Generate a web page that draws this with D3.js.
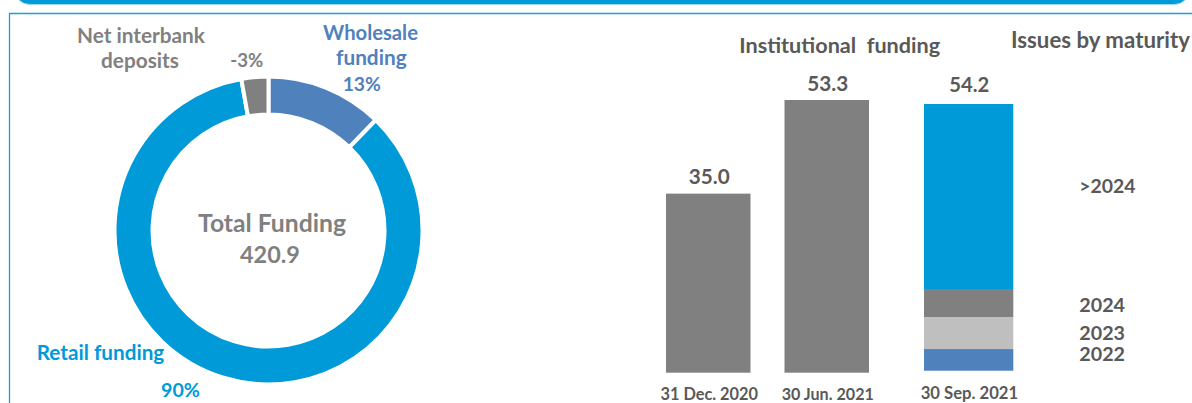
<!DOCTYPE html>
<html><head><meta charset="utf-8">
<script src="https://cdn.jsdelivr.net/npm/d3@7"></script>
<style>
html,body{margin:0;padding:0;background:#fff;overflow:hidden}
svg{display:block}
text{font-family:Lato,'Open Sans',sans-serif;font-weight:700;white-space:pre}
</style>
</head><body><svg id="c" width="1192" height="403"></svg>
<script>
// ---- data ----
const donutCategories = ["Wholesale funding", "Retail funding", "Net interbank deposits"];
const donutValues = [13, 90, -3];
const totalFundingLabel = "Total Funding";
const totalFunding = 420.9;
const barCategories = ["31 Dec. 2020", "30 Jun. 2021"];
const barValues = [35.0, 53.3];
const stackCategory = "30 Sep. 2021";
const maturityLabels = ["2022", "2023", "2024", ">2024"];
const maturityValues = [4.4, 6.5, 5.7, 37.6];
const barTitle = "Institutional  funding";
const maturityTitle = "Issues by maturity";

// ---- helpers ----
const svg = d3.select("#c");
function fit(t, w) {
  t.style("font-size", "20px");
  const m = t.node().getComputedTextLength();
  t.style("font-size", (20 * w / m) + "px");
  return t;
}
function label(txt, x, y, w, color, anchor) {
  const t = svg.append("text").attr("x", x).attr("y", y)
    .attr("text-anchor", anchor || "middle").attr("fill", color).text(txt);
  return fit(t, w);
}

// ---- frame ----
svg.append("rect").attr("x", 14).attr("y", -40).attr("width", 1176).attr("height", 44.5)
  .attr("rx", 16).attr("fill", "#009ad9").attr("stroke", "#9fd8f1").attr("stroke-width", 1);
svg.append("path").attr("d", "M9.5,403V13.5H1192").attr("fill", "none")
  .attr("stroke", "#1f9fd9").attr("stroke-width", 1.3);

// ---- donut ----
const donutColors = ["#4f81bd", "#009ad9", "#808080"];
const cx = 268.5, cy = 230.5;
const pie = d3.pie().value(d => Math.abs(d)).sort(null);
const arc = d3.arc().innerRadius(116).outerRadius(154);
const dg = svg.append("g").attr("transform", `translate(${cx},${cy})`);
dg.selectAll("path").data(pie(donutValues)).join("path")
  .attr("d", arc).attr("fill", (d, i) => donutColors[i])
  .attr("stroke", "#fff").attr("stroke-width", 4);

// donut labels (manual placement as in the original)
const donutLabelLayout = [
  { lines: [[cx + 102, 40, 95], [cx + 102.8, 65, 70.7]], pct: [cx + 93.3, 90.7, 38.3], color: "#4f81bd", split: true },
  { lines: [[100.5, 360, 127.6]], pct: [180.5, 397.3, 39], color: "#009ad9", split: false },
  { lines: [[141, 42.7, 128], [140, 67.7, 78]], pct: [246.7, 66.7, 33], color: "#808080", split: true }
];
donutCategories.forEach((name, i) => {
  const L = donutLabelLayout[i];
  let parts = [name];
  if (L.split) { const k = name.lastIndexOf(" "); parts = [name.slice(0, k), name.slice(k + 1)]; }
  parts.forEach((p, j) => label(p, L.lines[j][0], L.lines[j][1], L.lines[j][2], L.color));
  label(donutValues[i] + "%", L.pct[0], L.pct[1], L.pct[2], L.color);
});
label(totalFundingLabel, cx + 3.5, 231.7, 148, "#808080");
label(d3.format(".1f")(totalFunding), cx + 1.5, 263.3, 60, "#808080");

// ---- institutional funding bars ----
const textDark = "#595959";
const yBar = d3.scaleLinear().domain([0, d3.max(barValues)]).range([372.7, 100]);
const xBar = d3.scaleBand().domain(barCategories).range([666, 869]).paddingInner(0.287).paddingOuter(0);
svg.append("g").selectAll("rect").data(barValues).join("rect")
  .attr("x", (d, i) => xBar(barCategories[i])).attr("width", xBar.bandwidth())
  .attr("y", d => yBar(d)).attr("height", d => yBar(0) - yBar(d)).attr("fill", "#808080");
barValues.forEach((v, i) => {
  const x = xBar(barCategories[i]) + xBar.bandwidth() / 2;
  label(d3.format(".1f")(v), x + 1, yBar(v) - 9.5, 41, textDark);
  label(barCategories[i], x + 1, yBar(0) + 26.8, i === 0 ? 97.6 : 92.3, textDark);
});

// ---- stacked bar: issues by maturity ----
const stackColors = ["#4f81bd", "#bfbfbf", "#808080", "#009ad9"];
const total = d3.sum(maturityValues);
const yStack = d3.scaleLinear().domain([0, total]).range([370.7, 104]);
const xStack = d3.scaleBand().domain([stackCategory]).range([924, 1013.3]);
let cum = 0;
const segs = maturityValues.map(v => { const s = { y0: cum, y1: cum + v }; cum += v; return s; });
svg.append("g").selectAll("rect").data(segs).join("rect")
  .attr("x", xStack(stackCategory)).attr("width", xStack.bandwidth())
  .attr("y", d => yStack(d.y1)).attr("height", d => yStack(d.y0) - yStack(d.y1))
  .attr("fill", (d, i) => stackColors[i]);
const sx = xStack(stackCategory) + xStack.bandwidth() / 2;
label(d3.format(".1f")(total), sx + 0.6, yStack(total) - 12.3, 40, textDark);
label(stackCategory, sx + 0.8, yStack(0) + 27.8, 97.6, textDark);
const labelNudge = [1.3, 6.5, 9.3, -3.2];
const legendWidths = [45.7, 45.7, 45.7, 56.3];
segs.forEach((s, i) => {
  label(maturityLabels[i], 1079.3, yStack((s.y0 + s.y1) / 2) + labelNudge[i], legendWidths[i], textDark, "start");
});

// ---- titles ----
label(barTitle, 839.7, 52.7, 201, textDark);
label(maturityTitle, 1011, 48.3, 179, textDark, "start");
</script>
</body></html>
